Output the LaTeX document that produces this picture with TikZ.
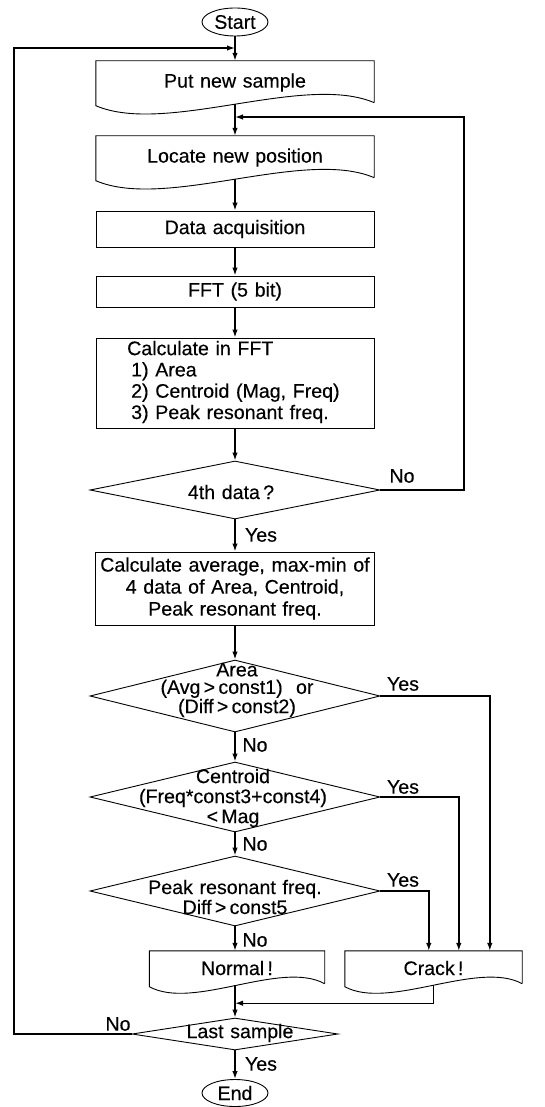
\documentclass[tikz,border=0pt]{standalone}
\usepackage{fontspec}
\setmainfont{Liberation Sans}[FakeBold=0.3]
\usetikzlibrary{shapes.geometric,arrows.meta}
% outline of a document-type box: straight top and sides, wavy bottom edge
\newcommand\waveoutline[3]{%
  \draw[shapeline] ([yshift=1.5pt]#1.south east) -- (#1.north east) -- (#1.north west)
    -- ([yshift=-1.5pt]#1.south west)
    .. controls +(#2,#3) and +(-#2,-#3) .. ([yshift=1.5pt]#1.south east);}
% text size with a little extra space between words
\newcommand\flowfont[1]{\fontsize{19.6}{#1}\selectfont\spaceskip=0.34em plus 0.1em minus 0.05em\relax}
\begin{document}
\begin{tikzpicture}[x=1pt,y=-1pt,
  txt/.style={font=\flowfont{22}},
  shapeline/.style={line width=0.9pt},
  procbox/.style={txt,draw,shapeline,inner sep=0pt,minimum width=278pt},
  docbox/.style={txt,inner sep=0pt,minimum width=278pt},
  decision/.style={diamond,draw,shapeline,inner sep=0pt},
  terminal/.style={ellipse,draw,shapeline,inner sep=0pt,minimum width=66pt,minimum height=28pt,txt},
  flow/.style={line width=1.4pt},
  arr/.style={flow,-{Latex[length=8pt,width=5.5pt]}},
  tag/.style={txt,inner sep=0pt}]
\useasboundingbox (0,0) rectangle (545,1107);

% ---- main column ----
\node[terminal] (startnode) at (235,22) {Start};
\node[docbox,minimum height=43pt] (put) at (235,82.5) {Put new sample};
\waveoutline{put}{70}{30}
\node[docbox,minimum height=43pt] (locate) at (235,157.5) {Locate new position};
\waveoutline{locate}{70}{30}
\node[procbox,minimum height=36pt] (acq) at (235,229) {Data acquisition};
\node[procbox,minimum height=31pt] (fft) at (235,291.5) {FFT (5 bit)};
\node[procbox,minimum height=90pt] (calc) at (235,383) {};
\node[tag,anchor=west,align=left,font=\flowfont{21.3}] (calctext) at (127,382)
  {Calculate in FFT\\\hspace*{4pt}1) Area\\\hspace*{4pt}2) Centroid (Mag, Freq)\\\hspace*{4pt}3) Peak resonant freq.};

\node[decision,minimum width=290pt,minimum height=58pt] (d4) at (235,490) {};
\node[tag] (d4text) at (231,492) {4th data\,?};

\node[procbox,minimum width=279pt,minimum height=73pt,align=center,font=\flowfont{22}] (avg) at (235,588.5)
  {Calculate average, max-min of\\4 data of Area, Centroid,\\Peak resonant freq.};

\node[decision,minimum width=290pt,minimum height=72pt] (darea) at (235,696) {};
\node[tag,align=center,font=\flowfont{17.5}] (dareatext) at (237,690)
  {Area\\(Avg\,>\,const1)~ or\\(Diff\,>\,const2)};

\node[decision,minimum width=290pt,minimum height=70pt] (dcent) at (235,797) {};
\node[tag,align=center,font=\flowfont{20}] (dcenttext) at (233,798)
  {Centroid\\(Freq*const3+const4)\\<\,Mag};

\node[decision,minimum width=290pt,minimum height=70pt] (dpeak) at (235,891) {};
\node[tag,align=center,font=\flowfont{20}] (dpeaktext) at (235,897)
  {Peak resonant freq.\\Diff\,>\,const5};

\node[docbox,minimum width=175pt,minimum height=34pt] (normal) at (237,968) {Normal\,!};
\waveoutline{normal}{44}{24}
\node[docbox,minimum width=177pt,minimum height=34pt] (crack) at (433.5,968) {Crack\,!};
\waveoutline{crack}{44}{24}

\node[decision,minimum width=206pt,minimum height=32pt] (dlast) at (235,1034) {};
\node[tag] (dlasttext) at (240,1033) {Last sample};
\node[terminal,minimum height=27pt] (endnode) at (235,1093) {End};

% ---- straight-down connectors ----
\draw[arr] (startnode) -- (put);
\draw[arr] (put) -- (locate);
\draw[arr] (locate) -- (acq);
\draw[arr] (acq) -- (fft);
\draw[arr] (fft) -- (calc);
\draw[arr] (calc) -- (d4);
\draw[arr] (d4) -- (avg);
\draw[arr] (avg) -- (darea);
\draw[arr] (darea) -- (dcent);
\draw[arr] (dcent) -- (dpeak);
\draw[arr] (dpeak.south) -- (dpeak.south |- normal.north);
\draw[arr] (dlast.north |- normal.south) -- (dlast.north);
\draw[arr] (dlast) -- (endnode);

% ---- loops back ----
\coordinate (loopR) at (464,117);
\coordinate (loopL) at (14,48);
\draw[arr] (d4.east) -| (loopR) -- (put.south |- loopR);
\draw[arr] (dlast.west) -| (loopL) -- (startnode.south |- loopL);

% ---- crack branches ----
\path (crack.north west) ++(145,0) coordinate (inA);
\path (crack.north west) ++(114,0) coordinate (inC);
\path (crack.north west) ++(84,0) coordinate (inP);
\draw[arr] (darea.east) -| (inA);
\draw[arr] (dcent.east) -| (inC);
\draw[arr] (dpeak.east) -| (inP);
\path (crack.south) ++(0,18) coordinate (crackdrop);
\draw[arr] (crack.south) -- (crackdrop) -- (dlast.north |- crackdrop);

% ---- branch labels ----
\node[tag] (no1) at (402,476) {No};
\node[tag] (yes1) at (261,535) {Yes};
\node[tag] (yes2) at (403,684) {Yes};
\node[tag] (no2) at (255,745) {No};
\node[tag] (yes3) at (403,787) {Yes};
\node[tag] (no3) at (255,844) {No};
\node[tag] (yes4) at (403,880) {Yes};
\node[tag] (no4) at (255,940) {No};
\node[tag] (no5) at (118,1024) {No};
\node[tag] (yes5) at (261,1064) {Yes};
\end{tikzpicture}
\end{document}
